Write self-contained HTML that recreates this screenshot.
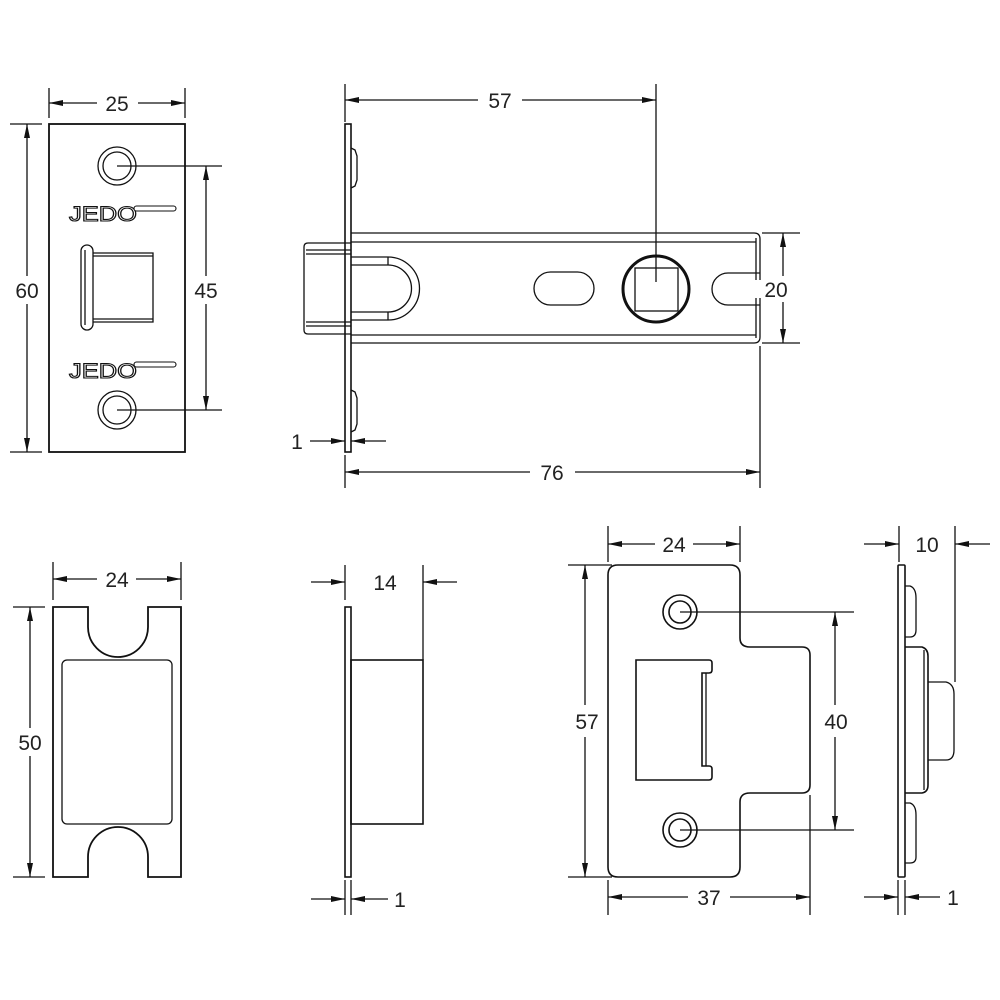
<!DOCTYPE html>
<html><head><meta charset="utf-8"><style>
html,body{margin:0;padding:0;background:#fff;}
svg{display:block;}
text{font-family:"Liberation Sans",sans-serif;font-size:21px;fill:#222;}
</style></head><body>
<svg width="1000" height="1000" viewBox="0 0 1000 1000" xmlns="http://www.w3.org/2000/svg">
<defs>
<marker id="a" viewBox="0 0 14 6" refX="14" refY="3" markerWidth="14" markerHeight="6" markerUnits="userSpaceOnUse" orient="auto-start-reverse">
<path d="M0,0 L14,3 L0,6 Z" fill="#111"/>
</marker>
</defs>
<g fill="none" stroke="#111" stroke-width="1.3">
<!-- ===== Top-left faceplate ===== -->
<rect x="49" y="124" width="136" height="328" stroke-width="1.8"/>
<circle cx="117" cy="166" r="19"/><circle cx="117" cy="166" r="14"/>
<circle cx="117" cy="410" r="19"/><circle cx="117" cy="410" r="14"/>
<line x1="117" y1="166" x2="222" y2="166"/>
<line x1="117" y1="410" x2="222" y2="410"/>
<rect x="81" y="245" width="12" height="85" rx="6"/>
<line x1="85" y1="250" x2="85" y2="325"/>
<path d="M93,253 H153 V322 H93"/>
<line x1="93" y1="256" x2="153" y2="256"/>
<line x1="93" y1="319" x2="153" y2="319"/>
<!-- ===== Latch side view ===== -->
<rect x="345" y="124" width="6" height="328" stroke-width="1.6"/>
<path d="M351,148 L355,150 L357,156 V180 L355,186 L351,188"/>
<path d="M351,390 L355,392 L357,398 V424 L355,430 L351,432"/>
<path d="M351,233 H754 Q760,233 760,239 V280"/>
<path d="M351,343 H754 Q760,343 760,337 V298"/>
<line x1="351" y1="242" x2="756" y2="242"/>
<line x1="351" y1="335" x2="756" y2="335"/>
<line x1="756" y1="238" x2="756" y2="280"/><line x1="756" y1="298" x2="756" y2="338"/>
<path d="M760,273 H728 A16,16 0 0 0 728,305 H760"/>
<path d="M351,243 H308 Q304,243 304,247 V330 Q304,334 308,334 H351"/>
<line x1="306" y1="250" x2="351" y2="250"/><line x1="306" y1="254" x2="351" y2="254"/>
<line x1="306" y1="322" x2="351" y2="322"/><line x1="306" y1="326" x2="351" y2="326"/>
<path d="M351,257 H388 A31.5,31.5 0 0 1 388,320 H351"/>
<path d="M388,265 A23.5,23.5 0 0 1 388,312"/>
<line x1="388" y1="257" x2="388" y2="265"/><line x1="388" y1="312" x2="388" y2="320"/>
<line x1="351" y1="265" x2="388" y2="265"/><line x1="351" y1="312" x2="388" y2="312"/>
<rect x="534" y="272" width="60" height="33" rx="16.5"/>
<circle cx="656" cy="289" r="33" stroke-width="3"/>
<rect x="635" y="268" width="43" height="43"/>
<!-- dims -->
<line x1="49" y1="88" x2="49" y2="118"/><line x1="185" y1="88" x2="185" y2="118"/>
<line x1="97" y1="103" x2="49" y2="103" marker-end="url(#a)"/>
<line x1="138" y1="103" x2="185" y2="103" marker-end="url(#a)"/>
<line x1="10" y1="124" x2="42" y2="124"/><line x1="10" y1="452" x2="42" y2="452"/>
<line x1="27" y1="276" x2="27" y2="124" marker-end="url(#a)"/>
<line x1="27" y1="304" x2="27" y2="452" marker-end="url(#a)"/>
<line x1="206" y1="276" x2="206" y2="166" marker-end="url(#a)"/>
<line x1="206" y1="304" x2="206" y2="410" marker-end="url(#a)"/>
<line x1="345" y1="84" x2="345" y2="122"/>
<line x1="656" y1="84" x2="656" y2="282"/>
<line x1="478" y1="100" x2="345" y2="100" marker-end="url(#a)"/>
<line x1="522" y1="100" x2="656" y2="100" marker-end="url(#a)"/>
<line x1="762" y1="233" x2="800" y2="233"/><line x1="762" y1="343" x2="800" y2="343"/>
<line x1="783" y1="276" x2="783" y2="233" marker-end="url(#a)"/>
<line x1="783" y1="302" x2="783" y2="343" marker-end="url(#a)"/>
<line x1="345" y1="455" x2="345" y2="488"/>
<line x1="760" y1="346" x2="760" y2="488"/>
<line x1="530" y1="472" x2="345" y2="472" marker-end="url(#a)"/>
<line x1="575" y1="472" x2="760" y2="472" marker-end="url(#a)"/>
<line x1="310" y1="441" x2="345" y2="441" marker-end="url(#a)"/>
<line x1="386" y1="441" x2="351" y2="441" marker-end="url(#a)"/>

<!-- ===== Bottom-left strike ===== -->
<path d="M53,607 H88 V627 A30,30 0 0 0 148,627 V607 H181 V877 H148 V857 A30,30 0 0 0 88,857 V877 H53 Z" stroke-width="1.8"/>
<rect x="62" y="660" width="110" height="164" rx="5"/>
<line x1="53" y1="562" x2="53" y2="600"/><line x1="181" y1="562" x2="181" y2="600"/>
<line x1="97" y1="579" x2="53" y2="579" marker-end="url(#a)"/>
<line x1="136" y1="579" x2="181" y2="579" marker-end="url(#a)"/>
<line x1="13" y1="607" x2="45" y2="607"/><line x1="13" y1="877" x2="45" y2="877"/>
<line x1="30" y1="728" x2="30" y2="607" marker-end="url(#a)"/>
<line x1="30" y1="756" x2="30" y2="877" marker-end="url(#a)"/>

<rect x="345" y="607" width="6" height="270" stroke-width="1.6"/>
<rect x="351" y="660" width="72" height="164" stroke-width="1.6"/>
<line x1="345" y1="565" x2="345" y2="600"/><line x1="423" y1="565" x2="423" y2="660"/>
<line x1="311" y1="582" x2="345" y2="582" marker-end="url(#a)"/>
<line x1="457" y1="582" x2="423" y2="582" marker-end="url(#a)"/>
<line x1="345" y1="880" x2="345" y2="915"/><line x1="351" y1="880" x2="351" y2="915"/>
<line x1="311" y1="899" x2="345" y2="899" marker-end="url(#a)"/>
<line x1="388" y1="899" x2="351" y2="899" marker-end="url(#a)"/>

<!-- ===== Strike plate right ===== -->
<path d="M618,565 H730 Q740,565 740,575 V638 Q740,647 750,647 H802 Q810,647 810,655 V785 Q810,793 802,793 H750 Q740,793 740,802 V867 Q740,877 730,877 H618 Q608,877 608,867 V575 Q608,565 618,565 Z" stroke-width="1.6"/>
<circle cx="680" cy="612" r="17" stroke-width="1.6"/><circle cx="680" cy="612" r="11" stroke-width="1.6"/>
<circle cx="680" cy="830" r="17" stroke-width="1.6"/><circle cx="680" cy="830" r="11" stroke-width="1.6"/>
<line x1="680" y1="612" x2="854" y2="612"/>
<line x1="680" y1="830" x2="854" y2="830"/>
<path d="M636,660 H709 Q712,660 712,663 V670 Q712,673 709,673 H702 V766 H709 Q712,766 712,769 V777 Q712,780 709,780 H636 Z" stroke-width="1.6"/>
<line x1="706" y1="673" x2="706" y2="766"/>
<line x1="608" y1="526" x2="608" y2="562"/><line x1="740" y1="526" x2="740" y2="562"/>
<line x1="655" y1="544" x2="608" y2="544" marker-end="url(#a)"/>
<line x1="693" y1="544" x2="740" y2="544" marker-end="url(#a)"/>
<line x1="568" y1="565" x2="612" y2="565"/><line x1="568" y1="877" x2="612" y2="877"/>
<line x1="585" y1="705" x2="585" y2="565" marker-end="url(#a)"/>
<line x1="585" y1="737" x2="585" y2="877" marker-end="url(#a)"/>
<line x1="835" y1="705" x2="835" y2="612" marker-end="url(#a)"/>
<line x1="835" y1="737" x2="835" y2="830" marker-end="url(#a)"/>
<line x1="608" y1="880" x2="608" y2="915"/><line x1="810" y1="795" x2="810" y2="915"/>
<line x1="688" y1="897" x2="608" y2="897" marker-end="url(#a)"/>
<line x1="730" y1="897" x2="810" y2="897" marker-end="url(#a)"/>

<rect x="898" y="565" width="7" height="312" rx="1" stroke-width="1.6"/>
<path d="M905,586 H910 Q916,588 916,598 V630 Q916,637 910,637 H905"/>
<path d="M905,803 H910 Q916,805 916,815 V857 Q916,863 910,863 H905"/>
<path d="M905,647 H922 Q928,649 928,656 V785 Q928,792 922,793 H905" stroke-width="1.6"/>
<line x1="924" y1="650" x2="924" y2="790"/>
<path d="M928,682 H946 Q954,684 954,694 V750 Q954,760 946,760 H928"/>
<line x1="899" y1="526" x2="899" y2="562"/><line x1="955" y1="526" x2="955" y2="682"/>
<line x1="864" y1="544" x2="899" y2="544" marker-end="url(#a)"/>
<line x1="990" y1="544" x2="955" y2="544" marker-end="url(#a)"/>
<line x1="898" y1="880" x2="898" y2="915"/><line x1="905" y1="880" x2="905" y2="915"/>
<line x1="864" y1="897" x2="898" y2="897" marker-end="url(#a)"/>
<line x1="940" y1="897" x2="905" y2="897" marker-end="url(#a)"/>
</g>

<!-- JEDO logos -->
<text x="69" y="221" font-size="32" textLength="68" lengthAdjust="spacingAndGlyphs" style="fill:#fff;stroke:#111;stroke-width:1.1;font-family:'Liberation Sans',sans-serif;">JEDO</text>
<text x="69" y="378" font-size="32" textLength="68" lengthAdjust="spacingAndGlyphs" style="fill:#fff;stroke:#111;stroke-width:1.1;font-family:'Liberation Sans',sans-serif;">JEDO</text>
<rect x="134" y="206" width="42" height="5" rx="2.5" fill="#fff" stroke="#111" stroke-width="1.1"/>
<rect x="134" y="362" width="42" height="5" rx="2.5" fill="#fff" stroke="#111" stroke-width="1.1"/>

<g text-anchor="middle">
<text x="117" y="111">25</text>
<text x="27" y="298">60</text>
<text x="206" y="298">45</text>
<text x="500" y="108">57</text>
<text x="776" y="297">20</text>
<text x="552" y="480">76</text>
<text x="297" y="449">1</text>
<text x="117" y="587">24</text>
<text x="30" y="750">50</text>
<text x="385" y="590">14</text>
<text x="400" y="907">1</text>
<text x="674" y="552">24</text>
<text x="587" y="729">57</text>
<text x="836" y="729">40</text>
<text x="709" y="905">37</text>
<text x="927" y="552">10</text>
<text x="953" y="905">1</text>
</g>
</svg>
</body></html>
